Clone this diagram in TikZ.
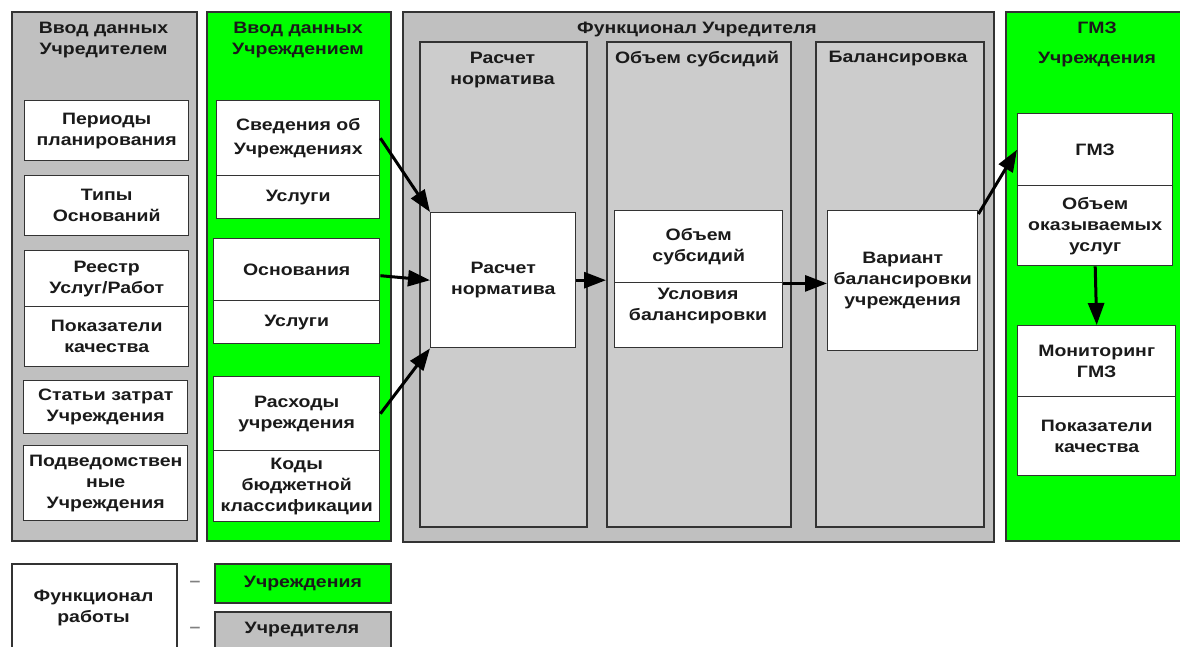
\documentclass[tikz,border=0pt]{standalone}
\usepackage{fontspec}
\setmainfont{Liberation Sans}[FakeStretch=1.18]
\usetikzlibrary{arrows.meta}
\definecolor{pgray}{HTML}{C0C0C0}
\definecolor{sgray}{HTML}{CCCCCC}
\definecolor{pgreen}{HTML}{00FF00}
\definecolor{edgec}{HTML}{333333}
\definecolor{ink}{HTML}{1A1A1A}
\newcommand\B[7]{\node[#1, minimum width=#5pt, minimum height=#6pt] (#2) at (#3,#4) {#7};}
\begin{document}
\begin{tikzpicture}[x=1pt,y=-1pt,
 tfont/.style={font=\fontsize{16.5}{21}\selectfont\bfseries, text=ink, align=center, inner sep=0pt},
 txt/.style={tfont, yshift=-2pt},
 panel/.style={draw=edgec, line width=1.8pt, anchor=north west, inner sep=0pt},
 wbox/.style={panel, fill=white, line width=1.4pt, tfont},
 arr/.style={line width=3pt, -{Triangle[length=22pt,width=16pt]}}]
\useasboundingbox (0,0) rectangle (1180,647);
\clip (0,0) rectangle (1180,647);
\fill[white] (0,0) rectangle (1180,647);
% panels
\B{panel,fill=pgray}{pL}{11}{11}{185}{529}{}
\B{panel,fill=pgreen}{pU}{206}{11}{184}{529}{}
\B{panel,fill=pgray}{pF}{402}{11}{591}{530}{}
\B{panel,fill=pgreen}{pG}{1005}{11}{190}{529}{}
\node[txt] (tL) at (103.5,38.5) {Ввод данных\\Учредителем};
\node[txt] (tU) at (298,38.5) {Ввод данных\\Учреждением};
\node[txt] (tF) at (697,27) {Функционал Учредителя};
\node[txt] (tG) at (1097,42) {ГМЗ\\[9pt]Учреждения};
% sub panels
\B{panel,fill=sgray}{sR}{419}{41}{167}{485}{}
\B{panel,fill=sgray}{sO}{606}{41}{184}{485}{}
\B{panel,fill=sgray}{sB}{815}{41}{168}{485}{}
\node[txt] (tR) at (502.5,68) {Расчет\\норматива};
\node[txt] (tO) at (697,57) {Объем субсидий};
\node[txt] (tB) at (898,57) {Балансировка};
% left column
\B{wbox}{per}{24}{100}{164}{60}{Периоды\\планирования}
\B{wbox}{tip}{24}{175}{164}{60}{Типы\\Оснований}
\B{wbox}{ree1}{24}{250}{164}{56}{Реестр\\Услуг/Работ}
\B{wbox}{ree2}{24}{306}{164}{60}{Показатели\\качества}
\B{wbox}{stat}{23}{380}{164}{53}{Статьи затрат\\Учреждения}
\B{wbox}{podv}{23}{445}{164}{75}{Подведомствен\\ные\\Учреждения}
% second column
\B{wbox}{sved1}{216}{100}{163}{75}{Сведения об\\[3pt]Учреждениях}
\B{wbox}{sved2}{216}{175}{163}{43}{Услуги}
\B{wbox}{osn1}{213}{238}{166}{62}{\raisebox{-8pt}{Основания}}
\B{wbox}{osn2}{213}{300}{166}{43}{Услуги}
\B{wbox}{rash1}{213}{376}{166}{74}{Расходы\\учреждения}
\B{wbox}{rash2}{213}{450}{166}{71}{Коды\\бюджетной\\классификации}
% middle
\B{wbox}{rn}{430}{212}{145}{135}{Расчет\\норматива}
\B{wbox}{ob1}{614}{210}{168}{72}{Объем\\субсидий}
\B{wbox}{ob2}{614}{282}{168}{65}{}
\node[txt] (ob2t) at (698,304.5) {Условия\\балансировки};
\B{wbox}{var}{827}{210}{150}{140}{Вариант\\балансировки\\учреждения}
% right
\B{wbox}{gmz1}{1017}{113}{155}{72}{ГМЗ}
\B{wbox}{gmz2}{1017}{185}{155}{80}{Объем\\оказываемых\\услуг}
\B{wbox}{mon1}{1017}{325}{158}{71}{Мониторинг\\ГМЗ}
\B{wbox}{mon2}{1017}{396}{158}{79}{Показатели\\качества}
% arrows
\draw[arr] (sved1.east) -- (rn.north west);
\draw[arr] ([yshift=-6pt]osn1.east) -- (rn.west);
\draw[arr] (rash1.east) -- (rn.south west);
\draw[arr] (rn.east) -- (rn.east -| sO.west);
\draw[arr] (ob1.south east) -- (ob1.south east -| var.west);
\draw[arr] ([yshift=-4pt]var.north east) -- (gmz1.west);
\draw[arr] (gmz2.south) -- (mon1.north);
% legend
\B{panel,fill=white}{lf}{11}{563}{165}{100}{}
\node[txt] (lft) at (93.5,605.5) {Функционал\\работы};
\node[txt, text=gray] (d1) at (195,582) {–};
\node[txt, text=gray] (d2) at (195,628) {–};
\B{panel,fill=pgreen,tfont}{lg}{214}{563}{176}{39}{Учреждения}
\B{panel,fill=pgray}{lu}{214}{611}{176}{50}{}
\node[txt] (lut) at (302,628) {Учредителя};
\end{tikzpicture}
\end{document}
